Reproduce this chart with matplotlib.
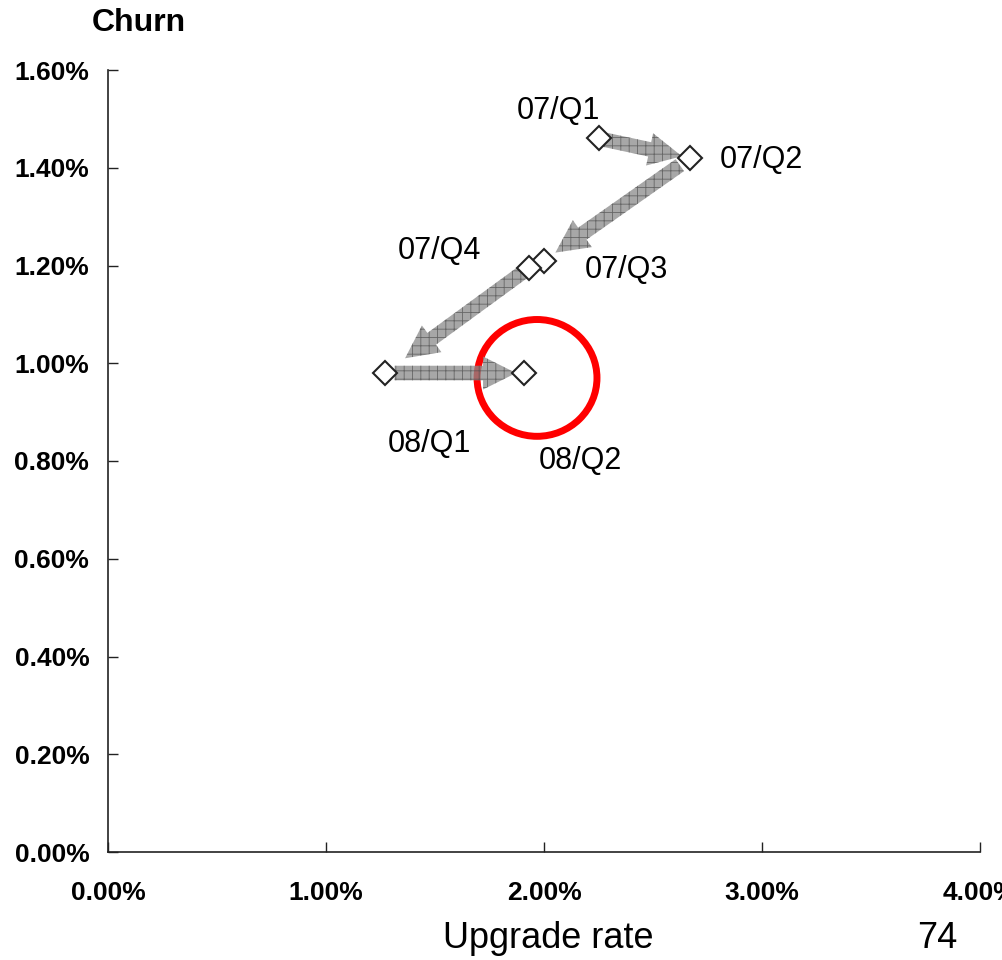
import matplotlib
matplotlib.use("Agg")
import matplotlib.pyplot as plt
from matplotlib.patches import FancyArrowPatch, Ellipse, ArrowStyle

# Quarterly upgrade rate vs churn (values in percent)
quarters = ["07/Q1", "07/Q2", "07/Q3", "07/Q4", "08/Q1", "08/Q2"]
upgrade_rate = [2.25, 2.67, 2.00, 1.93, 1.27, 1.91]
churn = [1.46, 1.42, 1.21, 1.195, 0.98, 0.98]

x_ticks = [0, 1, 2, 3, 4]
y_ticks = [0, 0.2, 0.4, 0.6, 0.8, 1.0, 1.2, 1.4, 1.6]

# Transitions shown as arrows (from index, to index)
transitions = [(0, 1), (1, 2), (3, 4), (4, 5)]

# Highlight around the latest quarter
highlight_center = (1.968, 0.970)
highlight_size = (0.55, 0.239)

# label offsets in points, and arrow shrink at start/end in points
label_offsets = [(-29, 19.5), (51, -1.5), (59, -6.5), (-64, 12), (32, -51), (40, -63)]
arrow_shrink = [(0, 6), (9, 10), (0, 18), (7, 6)]

plt.rcParams["hatch.linewidth"] = 0.6

W, H = 1002, 960
fig = plt.figure(figsize=(W / 100, H / 100), dpi=100)
ax = fig.add_axes([108 / W, 1 - 852 / H, (980 - 108) / W, (852 - 70) / H])

ax.set_xlim(0, 4)
ax.set_ylim(0, 1.6)
for s in ("top", "right"):
    ax.spines[s].set_visible(False)
for s in ("left", "bottom"):
    ax.spines[s].set_linewidth(1.2)
    ax.spines[s].set_color("#222222")

tick_font = dict(fontfamily="Liberation Sans", fontweight="bold", fontsize=19)
ax.set_xticks(x_ticks)
ax.set_yticks(y_ticks)
ax.set_xticklabels([f"{v:.2f}%" for v in x_ticks], **tick_font)
ax.set_yticklabels([f"{v:.2f}%" for v in y_ticks], **tick_font)
ax.tick_params(axis="x", direction="in", length=7, width=1, pad=21, colors="#222222",
               labelcolor="black")
ax.tick_params(axis="y", direction="in", length=7, width=1, pad=13.5, colors="#222222",
               labelcolor="black")

# red highlight ellipse
ax.add_patch(Ellipse(highlight_center, highlight_size[0], highlight_size[1],
                     fill=False, edgecolor="#ff0000", linewidth=5, zorder=2))

# hatched gray transition arrows
style = ArrowStyle.Simple(head_length=0.95, head_width=0.95, tail_width=0.42)
for (i, j), (sa, sb) in zip(transitions, arrow_shrink):
    arr = FancyArrowPatch((upgrade_rate[i], churn[i]), (upgrade_rate[j], churn[j]),
                          arrowstyle=style, mutation_scale=25,
                          shrinkA=sa, shrinkB=sb,
                          facecolor="#8a8a8a", edgecolor="#505050",
                          linewidth=0, hatch="++", alpha=0.75, zorder=3)
    ax.add_patch(arr)

ax.plot(upgrade_rate, churn, linestyle="none", marker="D", markersize=12,
        markerfacecolor="white", markeredgecolor="#222222", markeredgewidth=1.5,
        zorder=5, clip_on=False)

for q, xv, yv, off in zip(quarters, upgrade_rate, churn, label_offsets):
    ax.annotate(q, (xv, yv), xytext=off, textcoords="offset points",
                ha="center", va="center", fontsize=22,
                fontfamily="Liberation Sans", color="black", zorder=6)

fig.text(139 / W, 1 - 8 / H, "Churn", ha="center", va="top",
         fontfamily="Liberation Sans", fontweight="bold", fontsize=23)
fig.text(548 / W, 1 - 948 / H, "Upgrade rate", ha="center", va="baseline",
         fontfamily="Liberation Sans", fontsize=26)
fig.text(937 / W, 1 - 948 / H, "74", ha="center", va="baseline",
         fontfamily="Liberation Sans", fontsize=26)

fig.savefig("out.png", dpi=100)
